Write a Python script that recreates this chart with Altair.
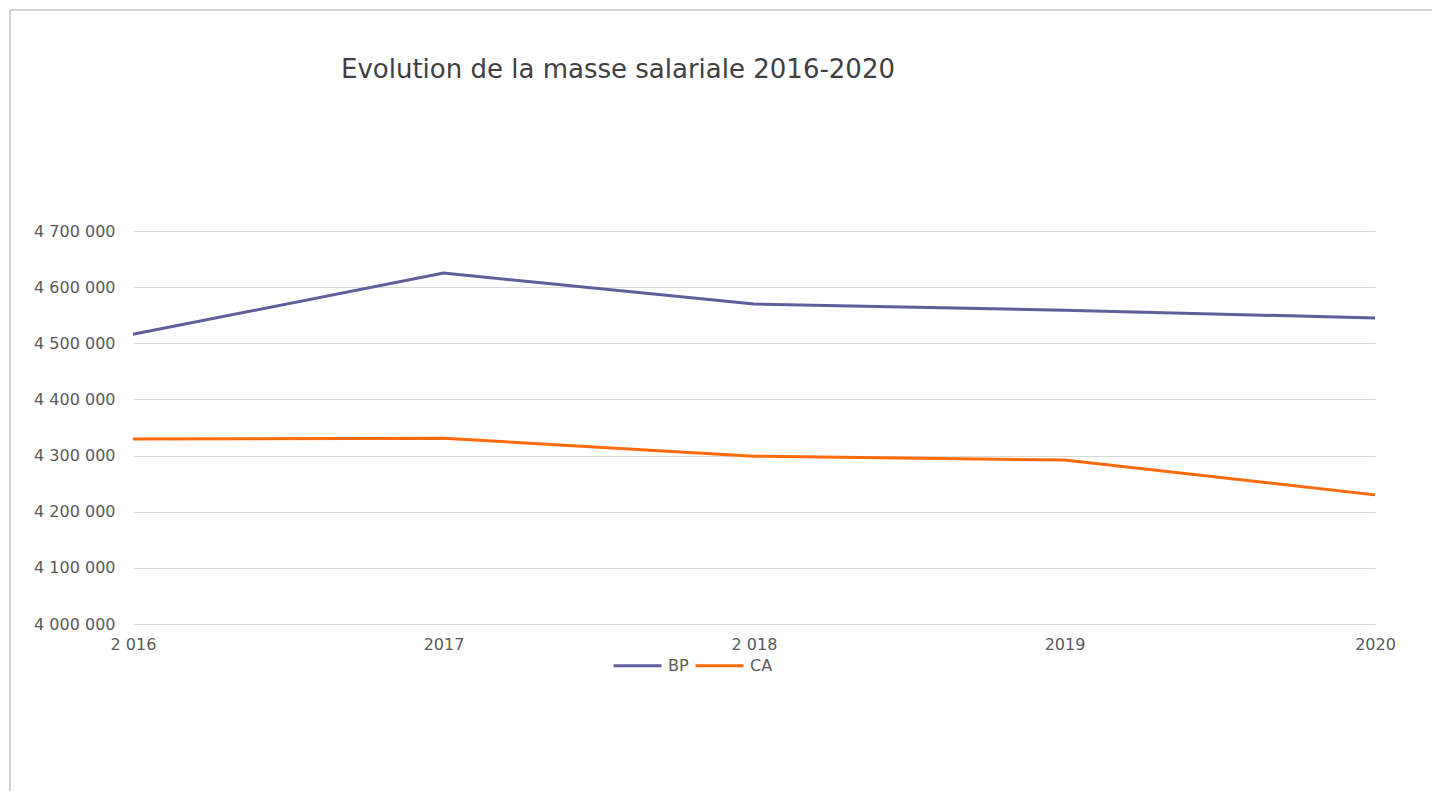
import altair as alt
import pandas as pd

# Wage bill 2016-2020: budget (BP) vs actual (CA)
years = ["2 016", "2017", "2 018", "2019", "2020"]
bp_values = [4516000, 4625000, 4570000, 4559000, 4545000]
ca_values = [4329500, 4331000, 4299000, 4292000, 4230000]
series_names = ["BP", "CA"]
series_colors = ["#605e9b", "#ff6a0a"]

df = pd.DataFrame(
    {
        "annee": years * 2,
        "serie": ["BP"] * len(years) + ["CA"] * len(years),
        "valeur": bp_values + ca_values,
    }
)

FONT = "DejaVu Sans"
TEXT = "#595959"

lines = (
    alt.Chart(df)
    .mark_line(strokeWidth=3)
    .encode(
        x=alt.X(
            "annee:N",
            sort=years,
            scale=alt.Scale(type="point", padding=0),
            axis=alt.Axis(
                title=None,
                domain=False,
                ticks=False,
                grid=False,
                labelAngle=0,
                labelPadding=12,
                labelFont=FONT,
                labelFontSize=16,
                labelColor=TEXT,
            ),
        ),
        y=alt.Y(
            "valeur:Q",
            scale=alt.Scale(domain=[4000000, 4700000], nice=False, zero=False),
            axis=alt.Axis(
                title=None,
                domain=False,
                ticks=False,
                values=[4000000 + 100000 * i for i in range(8)],
                labelExpr="replace(format(datum.value, ','), regexp(',', 'g'), ' ')",
                labelPadding=18,
                labelFont=FONT,
                labelFontSize=16,
                labelColor=TEXT,
                gridColor="#d9d9d9",
                gridWidth=1,
            ),
        ),
        color=alt.Color(
            "serie:N",
            scale=alt.Scale(domain=series_names, range=series_colors),
            legend=alt.Legend(
                title=None,
                orient="none",
                direction="horizontal",
                legendX=479,
                legendY=409,
                symbolType="stroke",
                symbolSize=2304,
                symbolStrokeWidth=3,
                labelFont=FONT,
                labelFontSize=16,
                labelColor=TEXT,
                labelOffset=5,
                columnPadding=0,
            ),
        ),
    )
)

# Outer frame of the chart area (top and left edges)
frame_top = alt.Chart(df).mark_rule(color="#d0d0d0", strokeWidth=1.5).encode(
    x=alt.value(-123), x2=alt.value(1299), y=alt.value(-221)
)
frame_left = alt.Chart(df).mark_rule(color="#d0d0d0", strokeWidth=1.5).encode(
    x=alt.value(-123), y=alt.value(-221), y2=alt.value(560)
)

chart = (
    alt.layer(frame_top, frame_left, lines)
    .properties(
        width=1242,
        height=393,
        autosize=alt.AutoSizeParams(type="none"),
        padding={"left": 133, "top": 231, "right": 57, "bottom": 167},
        title=alt.TitleParams(
            "Evolution de la masse salariale 2016-2020",
            anchor="start",
            frame="group",
            dx=208,
            offset=-74,
            font=FONT,
            fontSize=26,
            fontWeight="normal",
            color="#404040",
        ),
    )
    .configure(
        background="white",
        view=alt.ViewConfig(stroke="transparent", strokeWidth=0),
    )
)

chart.save("out.html", embed_options={"renderer": "svg", "actions": False})
